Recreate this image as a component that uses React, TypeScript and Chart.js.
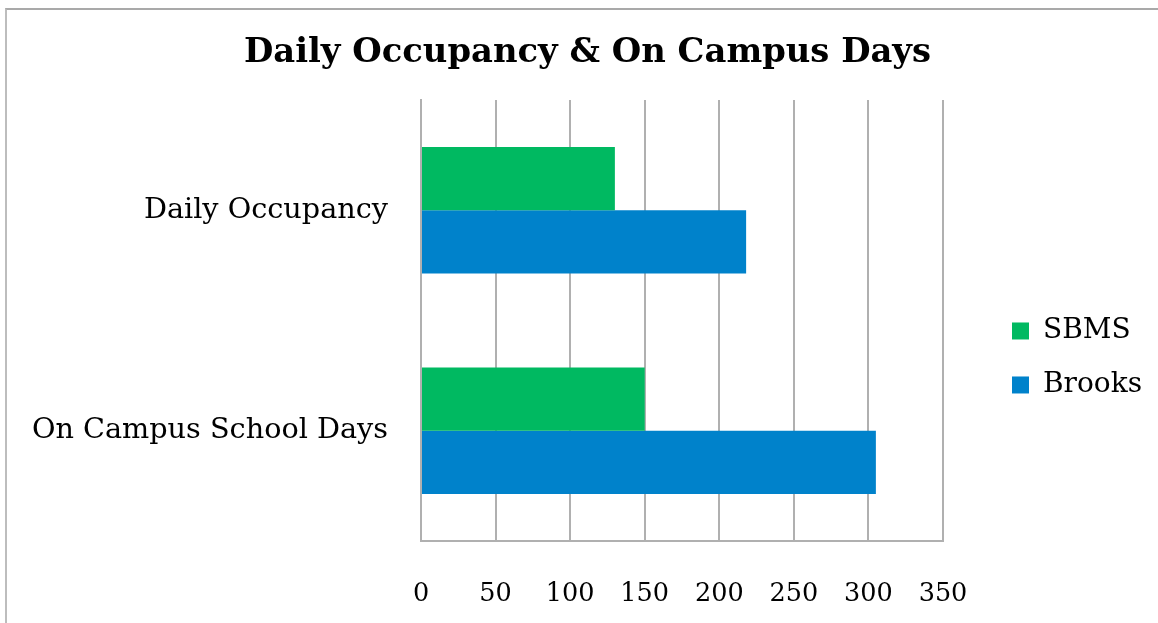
import React, { useEffect, useRef } from "react";
import { Chart, registerables } from "chart.js";

Chart.register(...registerables);

const categories = ["Daily Occupancy", "On Campus School Days"];
const seriesNames = ["SBMS", "Brooks"];
const sbmsValues = [130, 150];
const brooksValues = [218, 305];
const xTicks = [0, 50, 100, 150, 200, 250, 300, 350];

const GREEN = "#00B961";
const BLUE = "#0082CB";
const GRID = "#b0b0b0";
const SERIF = "'DejaVu Serif', 'Liberation Serif', serif";

export default function App() {
  const ref = useRef<HTMLCanvasElement | null>(null);

  useEffect(() => {
    document.body.style.margin = "0";
    const canvas = ref.current;
    if (!canvas) return;
    const padL = 23;
    const padR = 6;
    const chart = new Chart(canvas, {
      type: "bar",
      data: {
        labels: categories,
        datasets: [
          {
            label: seriesNames[0],
            data: sbmsValues,
            backgroundColor: GREEN,
            borderWidth: 0,
            categoryPercentage: 0.573,
            barPercentage: 1,
          },
          {
            label: seriesNames[1],
            data: brooksValues,
            backgroundColor: BLUE,
            borderWidth: 0,
            categoryPercentage: 0.573,
            barPercentage: 1,
          },
        ],
      },
      options: {
        indexAxis: "y",
        responsive: false,
        animation: false,
        layout: { padding: { left: padL, right: padR, top: 0, bottom: 0 } },
        plugins: {
          tooltip: { enabled: false },
          title: {
            display: true,
            text: "Daily Occupancy & On Campus Days",
            color: "#000",
            font: { family: SERIF, size: 33.8, weight: "bold" },
            padding: { top: 32.7, bottom: 26.7 },
          },
          legend: {
            position: "right",
            fullSize: false,
            title: {
              display: true,
              text: " ",
              font: { size: 10 },
              padding: { top: 32, bottom: 31 },
            },
            labels: {
              boxWidth: 17,
              boxHeight: 17,
              padding: 26,
              color: "#000",
              font: { family: SERIF, size: 28 },
            },
          },
        },
        scales: {
          x: {
            type: "linear",
            min: xTicks[0],
            max: xTicks[xTicks.length - 1],
            afterBuildTicks: (s: any) => {
              s.ticks = xTicks.map((v) => ({ value: v }));
            },
            grid: { color: GRID, lineWidth: 2, drawTicks: false },
            border: { display: true, color: GRID, width: 2 },
            ticks: {
              padding: 38,
              color: "#000",
              font: { family: SERIF, size: 25.5 },
              maxRotation: 0,
            },
            afterFit: (s: any) => {
              s.height = 82;
            },
          },
          y: {
            type: "category",
            grid: { display: false, drawTicks: false },
            border: { display: true, color: GRID, width: 2 },
            ticks: {
              padding: 33,
              color: "#000",
              font: { family: SERIF, size: 28.7 },
            },
            afterFit: (s: any) => {
              s.width = 421 - padL;
            },
          },
          y2: {
            type: "linear",
            position: "right",
            display: true,
            grid: { display: false, drawTicks: false },
            border: { display: false },
            ticks: { display: false },
            afterFit: (s: any) => {
              s.width = 43;
            },
          },
        },
      },
    } as any);
    return () => chart.destroy();
  }, []);

  return (
    <div
      style={{
        position: "fixed",
        left: 0,
        top: 0,
        width: 1158,
        height: 623,
        background: "#fff",
        overflow: "hidden",
      }}
    >
      <div
        style={{
          position: "absolute",
          left: 5,
          top: 8,
          width: 1200,
          height: 700,
          borderTop: "2px solid #a9a9a9",
          borderLeft: "2px solid #bdbdbd",
        }}
      />
      <canvas
        ref={ref}
        width={1158}
        height={623}
        style={{ position: "absolute", left: 0, top: 0, display: "block" }}
      />
    </div>
  );
}
